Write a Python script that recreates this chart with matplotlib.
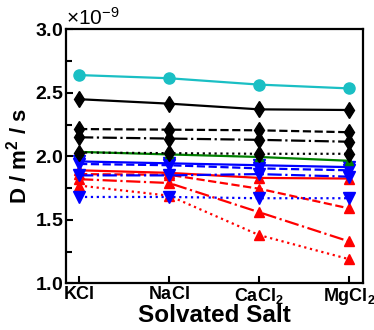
import matplotlib
matplotlib.use("Agg")
import matplotlib.pyplot as plt
from matplotlib.ticker import MultipleLocator, ScalarFormatter

salts = [r"$\mathbf{KCl}$", r"$\mathbf{NaCl}$", r"$\mathbf{CaCl_2}$", r"$\mathbf{MgCl_2}$"]

cyan_solid = [2.64, 2.615, 2.565, 2.535]
black_solid = [2.45, 2.415, 2.37, 2.365]
black_dashed = [2.215, 2.21, 2.205, 2.19]
black_dashdot = [2.15, 2.14, 2.13, 2.115]
black_dotted = [2.03, 2.025, 2.02, 2.02]
green_solid = [2.035, 2.015, 1.995, 1.965]
blue_solid = [1.96, 1.945, 1.93, 1.915]
blue_dashed = [1.94, 1.93, 1.905, 1.89]
blue_dashdot = [1.85, 1.85, 1.86, 1.84]
blue_dotted = [1.68, 1.68, 1.67, 1.67]
red_solid = [1.89, 1.87, 1.83, 1.825]
red_dashed = [1.86, 1.855, 1.745, 1.59]
red_dashdot = [1.82, 1.79, 1.56, 1.33]
red_dotted = [1.77, 1.69, 1.38, 1.19]

plt.rcParams['font.family'] = ['Liberation Sans', 'DejaVu Sans']
plt.rcParams['mathtext.fontset'] = 'custom'
plt.rcParams['mathtext.rm'] = 'Liberation Sans'
plt.rcParams['mathtext.it'] = 'Liberation Sans:italic'
plt.rcParams['mathtext.bf'] = 'Liberation Sans:bold'

fig = plt.figure(figsize=(3.74, 3.30), dpi=100)
ax = fig.add_axes([0.1765, 0.1415, 0.7941, 0.7695])

x = list(range(len(salts)))
scale = 1e-9
lw = 1.6

def plot(vals, color, ls, marker, ms):
    ax.plot(x, [v * scale for v in vals], color=color, ls=ls, lw=lw,
            marker=marker, ms=ms, mec=color, mfc=color)

plot(red_dotted, 'red', ':', '^', 7.5)
plot(red_dashdot, 'red', '-.', '^', 7.5)
plot(red_dashed, 'red', '--', '^', 7.5)
plot(red_solid, 'red', '-', '^', 7.5)
plot(blue_dotted, 'blue', ':', 'v', 8)
plot(blue_dashdot, 'blue', '-.', 'v', 8)
plot(blue_dashed, 'blue', '--', 'v', 8)
plot(blue_solid, 'blue', '-', 'v', 8)
plot(green_solid, 'green', '-', '^', 6)
plot(black_dotted, 'black', ':', 'd', 8.5)
plot(black_dashdot, 'black', '-.', 'd', 8.5)
plot(black_dashed, 'black', '--', 'd', 8.5)
plot(black_solid, 'black', '-', 'd', 8.5)
plot(cyan_solid, '#1ABFC4', '-', 'o', 8)

ax.set_xlim(-0.145, 3.155)
ax.set_ylim(1.0e-9, 3.0e-9)
ax.set_xticks(x)
ax.set_xticklabels(salts, fontsize=13)
ax.yaxis.set_major_locator(MultipleLocator(0.5e-9))
ax.yaxis.set_minor_locator(MultipleLocator(0.25e-9))
fmt = ScalarFormatter(useMathText=True)
fmt.set_powerlimits((-3, 3))
ax.yaxis.set_major_formatter(fmt)
ax.tick_params(axis='both', direction='in', width=1.5, length=5, pad=2)
ax.tick_params(axis='y', which='minor', direction='in', width=1.5, length=4)
ax.tick_params(axis='y', labelsize=14)
for lab in ax.get_yticklabels():
    lab.set_fontweight('bold')
for s in ax.spines.values():
    s.set_linewidth(1.6)

ot = ax.yaxis.get_offset_text()
ot.set_fontsize(15)

ax.set_xlabel("Solvated Salt", fontsize=17.5, fontweight='bold', labelpad=-2)
ax.set_ylabel(r"D / m$^\mathbf{2}$ / s", fontsize=16, fontweight='bold', labelpad=2)

fig.savefig("out.png", dpi=100)
